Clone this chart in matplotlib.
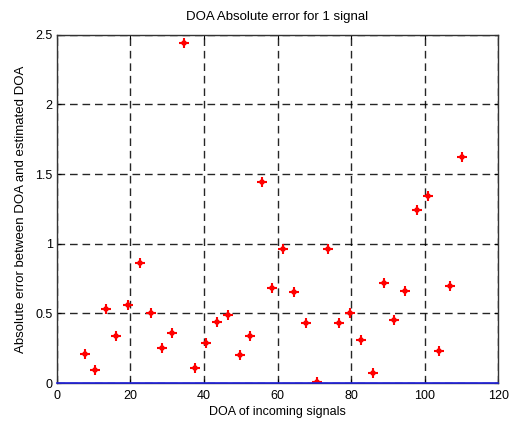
import matplotlib.pyplot as plt
import numpy as np

plt.rcParams['font.family'] = ['Liberation Sans', 'DejaVu Sans']

doa = [7.6, 10.3, 13.3, 16.2, 19.4, 22.7, 25.6, 28.5, 31.4, 34.5, 37.5, 40.5,
       43.6, 46.5, 49.9, 52.5, 55.7, 58.6, 61.6, 64.5, 67.8, 70.7, 73.7, 76.6,
       79.6, 82.8, 85.9, 88.9, 91.7, 94.7, 97.8, 100.9, 104.0, 107.0, 110.1]
err = [0.21, 0.096, 0.53, 0.34, 0.56, 0.865, 0.50, 0.25, 0.36, 2.44, 0.11, 0.29,
       0.44, 0.49, 0.20, 0.335, 1.44, 0.68, 0.96, 0.65, 0.43, 0.007, 0.96, 0.43,
       0.50, 0.31, 0.07, 0.72, 0.455, 0.66, 1.245, 1.34, 0.23, 0.70, 1.62]

x_line = [0, 120]
y_line = [0, 0]

fig = plt.figure(figsize=(5.12, 4.22), dpi=100)
ax = fig.add_axes([0.111, 0.0924, 0.862, 0.825])

ax.plot(doa, err, '+', color='red', markersize=6.5, markeredgewidth=1.5)
ax.plot(doa, err, 'x', color='red', markersize=3.5, markeredgewidth=1.1)
ax.plot(x_line, y_line, color='#2020dd', linewidth=1.2, clip_on=False, zorder=3)

ax.set_xlim(0, 120)
ax.set_ylim(0, 2.5)
ax.set_xticks(np.arange(0, 121, 20))
ax.set_yticks([0, 0.5, 1, 1.5, 2, 2.5])
ax.set_yticklabels(['0', '0.5', '1', '1.5', '2', '2.5'])
ax.grid(True, color='black', linestyle=(0, (5.5, 3.5)), linewidth=1.0, alpha=0.85)
ax.tick_params(direction='in', top=True, right=True, labelsize=9, length=3, pad=3)
ax.tick_params(axis='x', pad=5)
for s in ax.spines.values():
    s.set_color('#333333')
    s.set_linewidth(1.0)

ax.set_title('DOA Absolute error for 1 signal', fontsize=9.5, pad=11)
ax.set_xlabel('DOA of incoming signals', fontsize=9, labelpad=3)
ax.set_ylabel('Absolute error between DOA and estimated DOA', fontsize=9.5, labelpad=6)

fig.savefig('out.png', dpi=100)
